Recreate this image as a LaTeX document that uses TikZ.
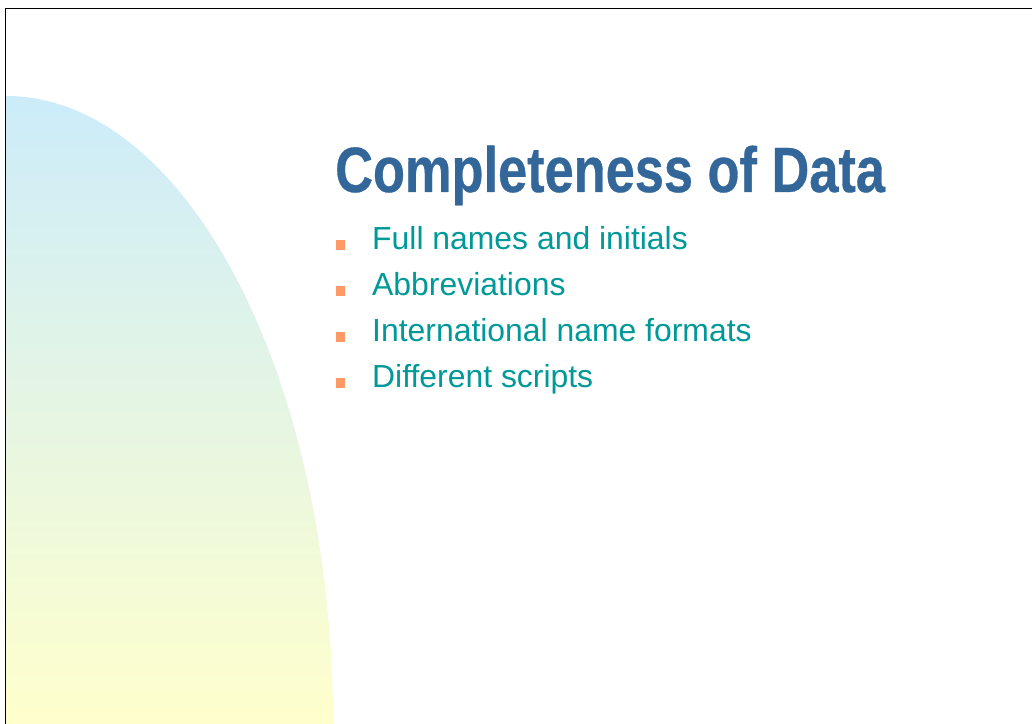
\documentclass[tikz,border=0pt]{standalone}
\usepackage{fontspec}
\setmainfont{Liberation Sans}
\newfontfamily\titlefont[FakeStretch=0.818,FakeBold=0.5]{Liberation Sans}
\usetikzlibrary{positioning}

\definecolor{titleblue}{RGB}{51,102,153}
\definecolor{itemteal}{RGB}{0,153,153}
\definecolor{bulletorange}{RGB}{255,153,102}
\definecolor{archblue}{RGB}{204,236,250}
\definecolor{archyellow}{RGB}{255,255,204}

\tikzset{
  itemtext/.style={anchor=base west, inner sep=0pt, text=itemteal, font=\fontsize{31.9}{36}\selectfont},
  bulletbox/.style={fill=bulletorange, minimum size=9.5pt, inner sep=0pt}
}

\begin{document}
\begin{tikzpicture}[x=1pt,y=1pt, line cap=round, line join=round]
    \useasboundingbox (0,0) rectangle (1032,723);
    \clip (0,0) rectangle (1032,723);
    % background arch
    \shade[top color=archblue, bottom color=archyellow] (6,-2) -- (6,627)
      arc[start angle=90, end angle=0, x radius=327, y radius=629] -- cycle;
    % slide frame
    \draw[line width=1.8pt, color=black] (5.5,-5) -- (5.5,714.5) -- (1040,714.5);
    % title
    \node[anchor=base west, inner sep=0pt, text=titleblue, font=\titlefont\bfseries\fontsize{64}{70}\selectfont] (title) at (335,531) {Completeness of Data};
    % items
    \foreach \txt [count=\i] in {Full names and initials, Abbreviations, International name formats, Different scripts} {
      \node[itemtext] (item\i) at (372,{473-46*(\i-1)}) {\txt};
      \node[bulletbox] (dot\i) at (340.5,{478-46*(\i-1)}) {};
    }
\end{tikzpicture}
\end{document}
